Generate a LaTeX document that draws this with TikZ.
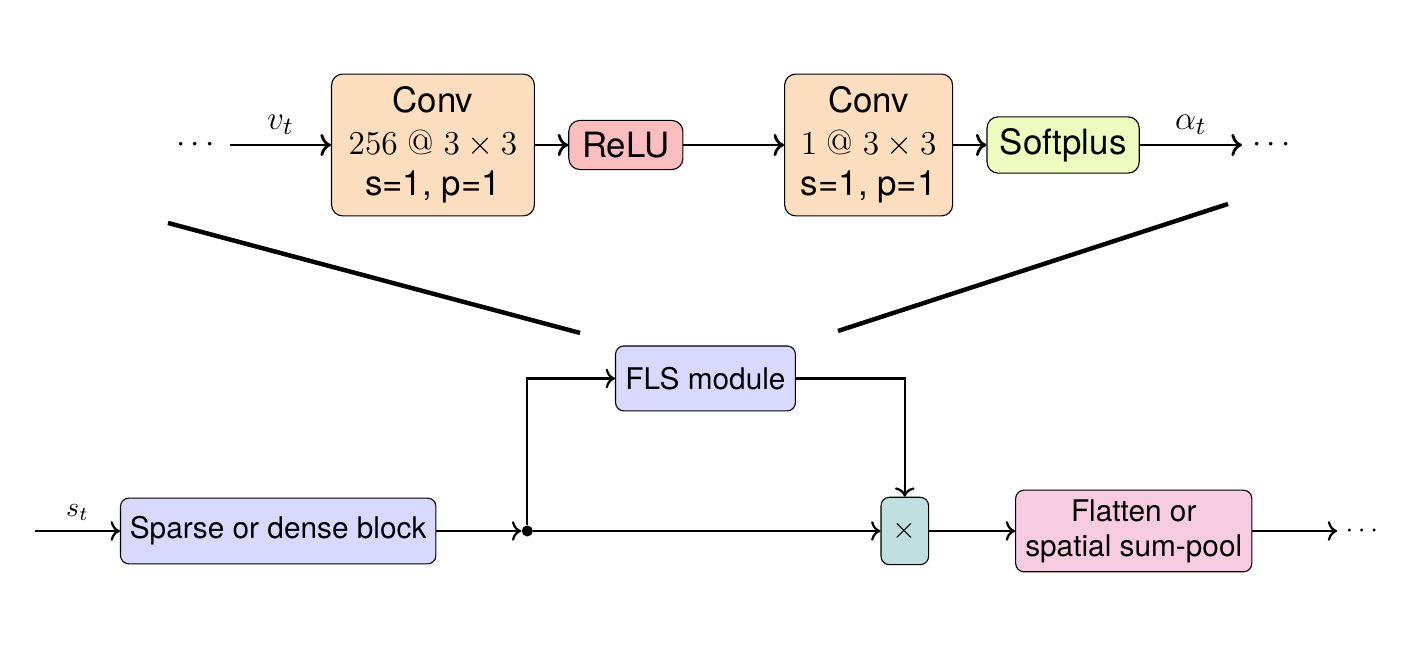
\documentclass[tikz,border=0pt]{standalone}
\usepackage{fontspec}
\setsansfont{TeX Gyre Heros}
\usetikzlibrary{arrows.meta,positioning}
\definecolor{convfill}{RGB}{253,222,190}
\definecolor{relufill}{RGB}{250,190,190}
\definecolor{softfill}{RGB}{238,252,192}
\definecolor{blockfill}{RGB}{217,217,255}
\definecolor{multfill}{RGB}{191,224,223}
\definecolor{poolfill}{RGB}{248,204,224}
\tikzset{
  layer/.style={rectangle,rounded corners=4pt,draw=black,fill=#1,
    align=center,inner sep=2pt,font=\sffamily\fontsize{12.5}{15}\selectfont},
  block/.style={rectangle,rounded corners=3pt,draw=black,fill=#1,
    align=center,inner sep=2pt,font=\sffamily\fontsize{10.7}{12.6}\selectfont},
  flow/.style={->,thick},
  topflow/.style={->,line width=1pt},
  dts/.style={inner xsep=0.18cm,inner ysep=0pt},
}
\begin{document}
\begin{tikzpicture}[
  lbl/.style={font=\fontsize{13}{15}\selectfont},
]
  \useasboundingbox (0,0) rectangle (17.756,8.392);

  % top row: inside of the FLS module
  \node[layer=convfill,minimum width=2.56cm,minimum height=1.79cm,anchor=west]
    (conv1) at (4.177,6.562) {Conv\\ $256\ @\ 3\times 3$\\ s=1, p=1};
  \node[layer=relufill,minimum width=1.44cm,minimum height=0.62cm,right=0.42cm of conv1]
    (relu) {ReLU};
  \node[layer=convfill,minimum width=2.12cm,minimum height=1.79cm,right=1.27cm of relu]
    (conv2) {Conv\\ $1\ @\ 3\times 3$\\ s=1, p=1};
  \node[layer=softfill,minimum width=1.92cm,minimum height=0.71cm,right=0.42cm of conv2]
    (soft) {Softplus};
  \node[dts,lbl,left=1.275cm of conv1] (ldots) {$\cdots$};
  \node[dts,lbl,inner xsep=0.12cm,right=1.29cm of soft] (rdots) {$\cdots$};

  \draw[topflow] (ldots) -- node[lbl,above] {$v_t$} (conv1);
  \draw[topflow] (conv1) -- (relu);
  \draw[topflow] (relu) -- (conv2);
  \draw[topflow] (conv2) -- (soft);
  \draw[topflow] (soft) -- node[lbl,above] {$\alpha_t$} (rdots);

  % bottom row
  \coordinate (in) at (0.442,1.691);
  \node[block=blockfill,minimum width=3.98cm,minimum height=0.83cm,anchor=west]
    (sparse) at (1.514,1.691) {Sparse or dense block};
  \node[circle,fill=black,inner sep=1.4pt,right=1.07cm of sparse] (split) {};
  \node[block=blockfill,minimum width=2.27cm,minimum height=0.82cm,anchor=west]
    (fls) at (7.761,3.616) {FLS module};
  \node[block=multfill,minimum width=0.6cm,minimum height=0.85cm,right=4.38cm of split]
    (mult) {$\times$};
  \node[block=poolfill,minimum width=2.98cm,minimum height=1.03cm,right=1.085cm of mult]
    (pool) {Flatten or\\ spatial sum-pool};
  \node[dts,inner xsep=0.1cm,right=1.07cm of pool] (odots) {$\cdots$};

  \draw[flow] (in) -- node[above] {$s_t$} (sparse);
  \draw[flow] (sparse) -- (split);
  \draw[flow] (split) |- (fls);
  \draw[flow] (split) -- (mult);
  \draw[flow] (fls) -| (mult);
  \draw[flow] (mult) -- (pool);
  \draw[flow] (pool) -- (odots);

  % zoom lines
  \coordinate (zl1) at (2.120,5.578);
  \coordinate (zl2) at (7.320,4.190);
  \coordinate (zr1) at (15.497,5.818);
  \coordinate (zr2) at (10.576,4.215);
  \draw[line width=1.6pt] (zl1) -- (zl2);
  \draw[line width=1.6pt] (zr1) -- (zr2);
\end{tikzpicture}
\end{document}
